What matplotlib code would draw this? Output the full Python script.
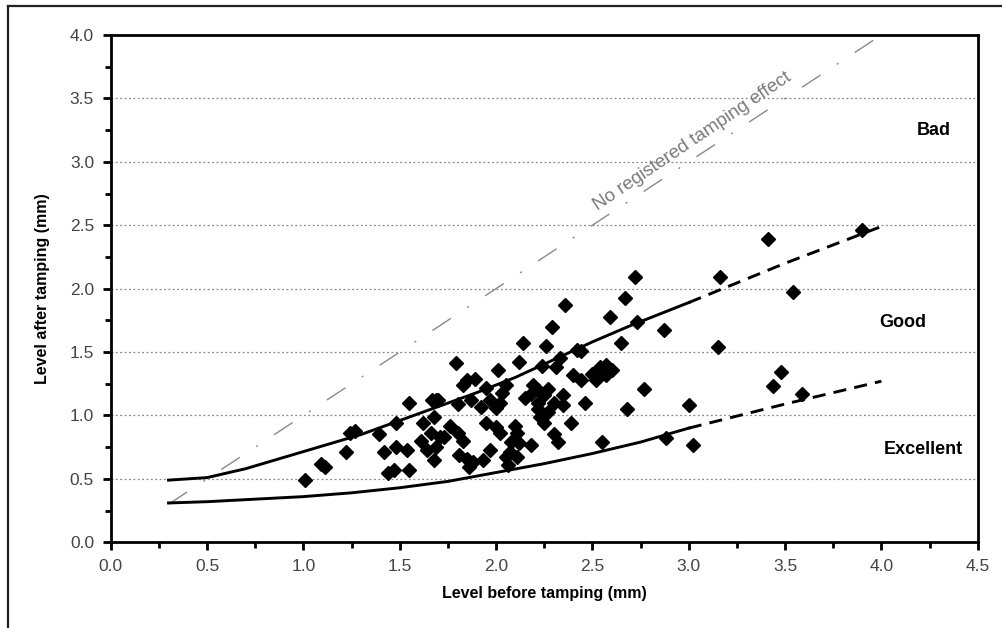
import matplotlib

matplotlib.use("Agg")
import matplotlib.pyplot as plt
from matplotlib.lines import Line2D
from matplotlib.ticker import MultipleLocator, FormatStrFormatter

# measured points (level before / after tamping, mm)
before = [
    1.01, 1.09, 1.11, 1.22, 1.24, 1.27, 1.39, 1.42, 1.48, 1.48, 1.54, 1.47, 1.44, 1.55,
    1.55, 1.62, 1.67, 1.69, 1.68, 1.61, 1.64, 1.69, 1.68, 1.66, 1.71,
    2.36, 2.59, 2.29, 2.14, 2.26, 2.42, 1.79, 2.12, 2.33, 2.01, 2.24, 2.31, 2.40, 2.54,
    2.50, 2.58, 2.57, 2.52, 1.85, 1.89, 1.83, 1.95, 2.05, 2.03, 2.19, 2.22, 2.27, 2.18,
    2.25, 2.35, 1.70, 1.80, 1.87, 1.97, 2.02, 2.15, 2.22, 2.30, 2.46, 2.35, 1.92, 2.00,
    2.22, 2.27, 1.76, 1.95, 2.00, 2.10, 2.23, 2.25, 2.39, 1.73, 1.80, 1.83, 2.02, 2.11,
    2.08, 2.12, 2.18, 2.30, 2.32, 2.55, 1.97, 2.07, 2.05, 2.11, 1.81, 1.85, 1.88, 1.86,
    1.93, 2.06, 2.72, 2.67, 2.73, 2.87, 2.65, 2.44, 3.16, 3.15, 3.41, 2.57, 2.60, 2.53,
    2.77, 2.44, 2.68, 3.00, 2.88, 3.02, 3.44, 3.48, 3.90, 3.54, 3.59,
]
after = [
    0.49, 0.62, 0.59, 0.71, 0.86, 0.88, 0.85, 0.71, 0.94, 0.75, 0.73, 0.57, 0.55, 0.57,
    1.10, 0.94, 1.12, 1.12, 0.99, 0.80, 0.73, 0.75, 0.65, 0.86, 0.83,
    1.87, 1.78, 1.70, 1.57, 1.55, 1.52, 1.41, 1.42, 1.45, 1.36, 1.39, 1.38, 1.32, 1.38,
    1.33, 1.36, 1.32, 1.28, 1.28, 1.29, 1.24, 1.22, 1.24, 1.18, 1.24, 1.20, 1.21, 1.17,
    1.16, 1.16, 1.12, 1.09, 1.12, 1.12, 1.10, 1.14, 1.10, 1.10, 1.10, 1.08, 1.07, 1.06,
    1.05, 1.03, 0.92, 0.94, 0.91, 0.92, 0.99, 0.94, 0.94, 0.83, 0.86, 0.80, 0.86, 0.86,
    0.79, 0.78, 0.77, 0.85, 0.79, 0.79, 0.73, 0.71, 0.67, 0.67, 0.69, 0.66, 0.63, 0.59,
    0.65, 0.61, 2.09, 1.93, 1.74, 1.67, 1.57, 1.51, 2.09, 1.54, 2.39, 1.40, 1.36, 1.34,
    1.21, 1.28, 1.05, 1.08, 0.82, 0.77, 1.23, 1.34, 2.46, 1.97, 1.17,
]

# boundary curves (solid part, then extrapolated dashed part)
upper_x = [0.3, 0.5, 0.7, 0.9, 1.1, 1.3, 1.5, 1.7, 1.9, 2.1, 2.3, 2.5, 2.7, 2.9, 3.0]
upper_y = [0.49, 0.51, 0.58, 0.67, 0.76, 0.85, 0.96, 1.07, 1.18, 1.30, 1.44, 1.58, 1.71, 1.83, 1.89]
upper_ext_x = [3.0, 3.5, 4.0]
upper_ext_y = [1.89, 2.20, 2.49]

lower_x = [0.3, 0.5, 0.75, 1.0, 1.25, 1.5, 1.75, 2.0, 2.25, 2.5, 2.75, 3.0]
lower_y = [0.31, 0.32, 0.34, 0.36, 0.39, 0.43, 0.48, 0.55, 0.62, 0.70, 0.79, 0.90]
lower_ext_x = [3.0, 3.5, 4.0]
lower_ext_y = [0.90, 1.09, 1.27]

ref_x = [0.3, 4.0]
ref_y = [0.3, 4.0]

zones = ["Bad", "Good", "Excellent"]
zone_x = [4.27, 4.11, 4.22]
zone_y = [3.25, 1.73, 0.73]

plt.rcParams["font.family"] = ["Liberation Sans", "DejaVu Sans"]

fig = plt.figure(figsize=(10.03, 6.28), dpi=100)
ax = fig.add_axes([0.1104, 0.1365, 0.8644, 0.8078])

ax.set_xlim(0, 4.5)
ax.set_ylim(0, 4.0)

for yv in [0.5, 1.0, 1.5, 2.0, 2.5, 3.0, 3.5]:
    ax.axhline(yv, color="#888888", lw=0.9, ls=(0, (1.5, 2.0)), zorder=0)

ax.plot(ref_x, ref_y, color="#8a8a8a", lw=1.0, dashes=(16, 14, 1.5, 14), zorder=1)
ax.text(3.02, 3.16, "No registered tamping effect", rotation=34,
        ha="center", va="center", color="#7a7a7a", fontsize=13.5)

ax.plot(upper_x, upper_y, color="black", lw=2.1, zorder=2)
ax.plot(upper_ext_x, upper_ext_y, color="black", lw=2.1, dashes=(4.5, 2.8), zorder=2)
ax.plot(lower_x, lower_y, color="black", lw=2.1, zorder=2)
ax.plot(lower_ext_x, lower_ext_y, color="black", lw=2.1, dashes=(4.5, 2.8), zorder=2)

ax.plot(before, after, ls="none", marker="D", ms=7.6, color="black", zorder=3)

for name, zx, zy in zip(zones, zone_x, zone_y):
    ax.text(zx, zy, name, ha="center", va="center", fontsize=13, fontweight="bold")

ax.xaxis.set_major_locator(MultipleLocator(0.5))
ax.xaxis.set_minor_locator(MultipleLocator(0.25))
ax.yaxis.set_major_locator(MultipleLocator(0.5))
ax.yaxis.set_minor_locator(MultipleLocator(0.25))
ax.xaxis.set_major_formatter(FormatStrFormatter("%.1f"))
ax.yaxis.set_major_formatter(FormatStrFormatter("%.1f"))
ax.tick_params(which="major", direction="out", length=6, width=2,
               labelsize=12.5, labelcolor="#444444", pad=6)
ax.tick_params(which="minor", direction="out", length=4, width=2)
for sp in ax.spines.values():
    sp.set_linewidth(2)

ax.set_xlabel("Level before tamping (mm)", fontsize=11.5, fontweight="bold", labelpad=9)
ax.set_ylabel("Level after tamping (mm)", fontsize=11.5, fontweight="bold", labelpad=14)

# partial outer frame of the original figure
fig.add_artist(Line2D([0.008, 0.008], [0.0, 0.9904], color="#222222", lw=1.6))
fig.add_artist(Line2D([0.008, 1.0], [0.9904, 0.9904], color="#222222", lw=1.6))

fig.savefig("out.png", dpi=100)
